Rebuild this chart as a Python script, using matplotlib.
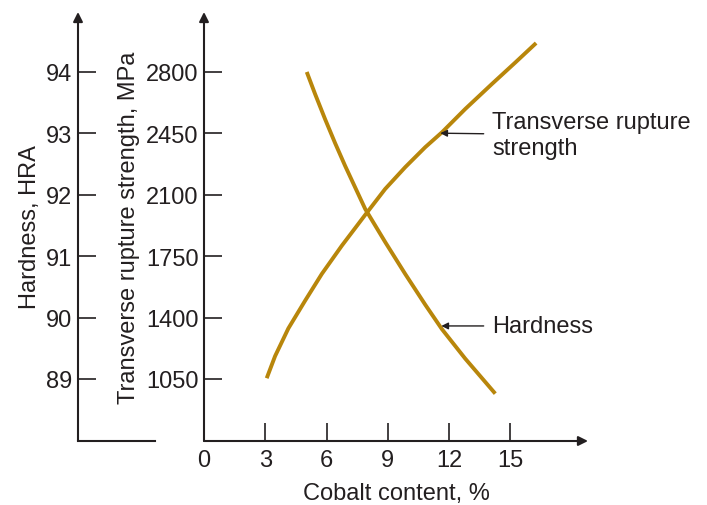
import matplotlib.pyplot as plt

plt.rcParams['font.family'] = ['Liberation Sans', 'DejaVu Sans']

# Datos
cobalt_strength = [3.07, 3.48, 4.13, 4.95, 5.77, 6.75, 7.89, 8.87, 9.85,
                   10.83, 11.65, 12.79, 14.10, 15.25, 16.26]
strength = [1054, 1180, 1338, 1496, 1649, 1810, 1985, 2133, 2257,
            2371, 2456, 2589, 2732, 2855, 2965]

cobalt_hardness = [5.03, 5.44, 5.93, 6.42, 6.91, 7.40, 7.89, 8.87, 9.85,
                   10.83, 11.65, 12.79, 14.26]
hardness = [94.00, 93.64, 93.23, 92.84, 92.47, 92.12, 91.77, 91.23, 90.71,
            90.21, 89.81, 89.33, 88.76]

x_ticks = [0, 3, 6, 9, 12, 15]
s_ticks = [1050, 1400, 1750, 2100, 2450, 2800]
h_ticks = [89, 90, 91, 92, 93, 94]

ink = '#231f20'
gold = '#b8860b'
fs = 17
W, H = 707, 506

fig = plt.figure(figsize=(W / 100, H / 100), dpi=100)

# Ejes principales (resistencia)
top, bottom = 13, 442
ax = fig.add_axes([204 / W, (H - bottom) / H, (588 - 204) / W, (bottom - top) / H])
ax.set_xlim(0, 18.8)
ax.set_ylim(696, 3142)

# Eje de dureza (a la izquierda), misma escala: 1 HRA = 350 MPa
axh = fig.add_axes([78 / W, (H - bottom) / H, (155 - 78) / W, (bottom - top) / H])
axh.set_ylim(89 + (696 - 1050) / 350, 89 + (3142 - 1050) / 350)
axh.set_xlim(0, 1)
axh.set_xticks([])

for a in (ax, axh):
    for s in a.spines.values():
        s.set_visible(False)
    a.patch.set_visible(False)
    # ejes con flecha
    a.annotate('', xy=(0, 1), xytext=(0, 0), xycoords='axes fraction',
               arrowprops=dict(arrowstyle='-|>', lw=1.5, color=ink,
                               mutation_scale=14, shrinkA=0, shrinkB=0))
    a.tick_params(axis='y', direction='in', length=13, width=1.2, color=ink,
                  labelsize=fs, labelcolor=ink, pad=4)

axh.plot([0, 1], [axh.get_ylim()[0]] * 2, color=ink, lw=1.5, clip_on=False)
ax.annotate('', xy=(1, 0), xytext=(0, 0), xycoords='axes fraction',
            arrowprops=dict(arrowstyle='-|>', lw=1.5, color=ink,
                            mutation_scale=14, shrinkA=0, shrinkB=0))

ax.set_xticks(x_ticks)
ax.set_yticks(s_ticks)
axh.set_yticks(h_ticks)
ax.tick_params(axis='x', direction='in', length=13, width=1.2, color=ink,
               labelsize=fs, labelcolor=ink, pad=6)

# Curvas
ax.plot(cobalt_strength, strength, color=gold, lw=2.8, solid_capstyle='butt',
        solid_joinstyle='round')
ax.plot(cobalt_hardness, [1050 + (h - 89) * 350 for h in hardness],
        color=gold, lw=2.8, solid_capstyle='butt', solid_joinstyle='round')

# Etiquetas
ax.set_xlabel('Cobalt content, %', fontsize=fs, color=ink, labelpad=8)
ax.set_ylabel('Transverse rupture strength, MPa', fontsize=fs, color=ink, labelpad=4)
axh.set_ylabel('Hardness, HRA', fontsize=fs, color=ink, labelpad=4)

ax.annotate('Transverse rupture\nstrength', xy=(11.57, 2451), xytext=(14.1, 2440),
            fontsize=fs, color=ink, va='center', ha='left', linespacing=1.2,
            arrowprops=dict(arrowstyle='-|>', lw=1, color=ink,
                            mutation_scale=10, shrinkA=4, shrinkB=0))
ax.annotate('Hardness', xy=(11.62, 1352), xytext=(14.1, 1352),
            fontsize=fs, color=ink, va='center', ha='left',
            arrowprops=dict(arrowstyle='-|>', lw=1, color=ink,
                            mutation_scale=10, shrinkA=4, shrinkB=0))

fig.savefig('out.png', dpi=100)
